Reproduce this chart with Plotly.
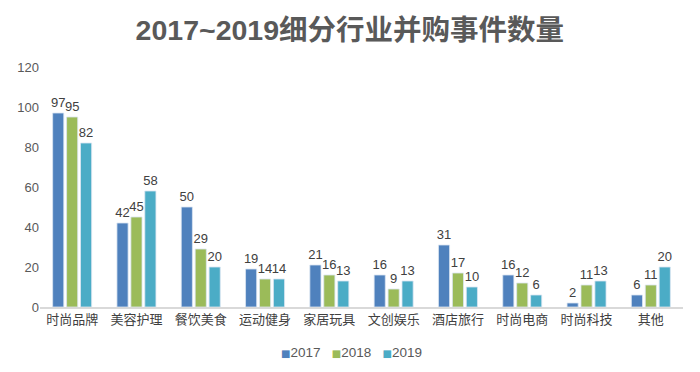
import plotly.graph_objects as go

categories = ["时尚品牌", "美容护理", "餐饮美食", "运动健身", "家居玩具", "文创娱乐", "酒店旅行", "时尚电商", "时尚科技", "其他"]
v2017 = [97, 42, 50, 19, 21, 16, 31, 16, 2, 6]
v2018 = [95, 45, 29, 14, 16, 9, 17, 12, 11, 11]
v2019 = [82, 58, 20, 14, 13, 13, 10, 6, 13, 20]
series_names = ["2017", "2018", "2019"]
colors = ["#4F81BD", "#9BBB59", "#4BACC6"]

FONT = "Liberation Sans, Arial, Noto Sans CJK SC, sans-serif"

fig = go.Figure()
for name, vals, col in zip(series_names, [v2017, v2018, v2019], colors):
    fig.add_trace(go.Bar(
        name=name, x=categories, y=vals,
        marker=dict(color=col, line=dict(color="#DCE6F2", width=0.8)),
        text=[str(v) for v in vals], textposition="outside",
        textfont=dict(size=13, color="#404040", family=FONT),
        constraintext="none",
        cliponaxis=False,
        showlegend=False,
    ))

# compact legend (Excel style: small square right next to the label)
legend_text = "&nbsp;&nbsp;&nbsp;".join(
    f"<span style='color:{c};font-size:10px;font-family:DejaVu Sans'>■</span>{n}"
    for n, c in zip(series_names, colors)
)
fig.add_annotation(text=legend_text, xref="paper", yref="paper", x=0.484, y=-0.1875,
                   xanchor="center", yanchor="middle", showarrow=False,
                   font=dict(size=13.5, color="#595959", family=FONT))

# page body has an 8px margin, so the figure is sized/offset to compensate
fig.update_layout(
    width=692, height=364,
    paper_bgcolor="white", plot_bgcolor="white",
    margin=dict(l=32, r=17, t=59, b=65, autoexpand=False),
    barmode="group", bargap=0.35, bargroupgap=0.2,
    title=dict(text="<b>2017~2019细分行业并购事件数量</b>", x=0.494, xanchor="center", y=0.94, yanchor="middle",
               font=dict(size=28.5, color="#595959", family=FONT)),
    font=dict(family=FONT, color="#595959", size=13),
)
fig.update_yaxes(range=[0, 120], dtick=20, showgrid=False, zeroline=False, showline=False,
                 tickfont=dict(size=13, color="#595959"), ticks="", ticklen=0)
fig.update_xaxes(showline=True, linecolor="#D9D9D9", linewidth=1.5, ticks="",
                 tickfont=dict(size=13, color="#404040", family="Noto Sans CJK SC, sans-serif"))

fig.write_html("out.html")
